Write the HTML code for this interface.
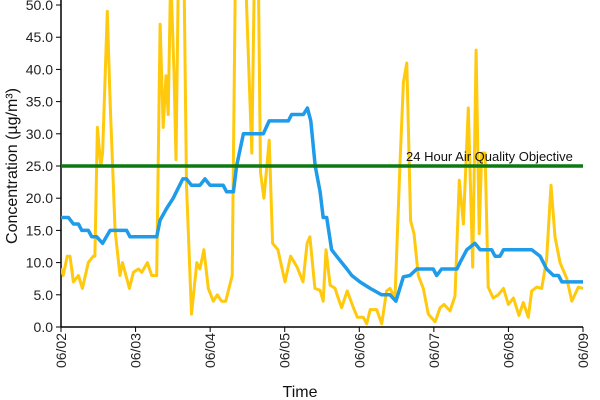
<!DOCTYPE html>
<html><head><meta charset="utf-8"><style>
html,body{margin:0;padding:0;background:#fff;}
svg{display:block;font-family:"Liberation Sans",sans-serif;}
</style></head><body>
<svg id="chart" width="600" height="400" viewBox="0 0 600 400">
<defs><clipPath id="plotclip"><rect x="61" y="0" width="523" height="328"/></clipPath></defs>
<g id="grid"></g>
<g id="series" clip-path="url(#plotclip)"></g>
<text x="406" y="161" font-size="13" fill="#111">24 Hour Air Quality Objective</text>
<text transform="translate(17,166) rotate(-90)" text-anchor="middle" font-size="16" fill="#111">Concentration (µg/m³)</text>
<text x="300" y="397" text-anchor="middle" font-size="16" fill="#111">Time</text>
</svg>
<script>
const yTicks = [0,5,10,15,20,25,30,35,40,45,50];
const xTickLabels = ["06/02","06/03","06/04","06/05","06/06","06/07","06/08","06/09"];
const objective = 25;
const hourlyHours = [0,0.7,2,2.9,4,5.6,6.9,8.8,10.4,10.9,11.7,12.8,13.4,14.9,15.8,17.4,19,19.8,22,23.3,24.9,26,27.8,29.2,30.8,31.9,32.9,33.8,34.5,35.3,36.4,37,37.8,39.6,40.4,42,43.7,44.7,46,47.4,49,50.3,51.7,53,55.1,56.2,59,61.4,62.4,63.4,64.2,65.3,67,68.1,69.8,72.1,73.9,76,77.9,79.2,80.1,81.7,83.4,84.4,85.3,86.6,88.2,89.2,90.3,92.1,94.1,95.4,97.3,98.4,99.5,101.6,103.2,104.8,105.9,107.5,109.1,110.2,111.3,112.5,113.6,115,116.6,118.2,120.4,122,123.3,125.2,126.8,128.2,129.5,131.1,132.5,133.6,134.6,135.4,136.5,137.5,139.1,140.7,142.4,144,145.6,147.4,148.8,150.4,151.5,153.1,154.7,156.3,157.7,159,160.6,162.8,164.4,166.5,168];
const hourlyValues = [9.1,8,11,11,7,8,6,10,11,11,31,25,27,49,35,15,8,10,6,8.5,9,8.5,10,8,8,47,31,39,33,55,39,26,55,55,22,2,10,9,12,6,4,5,4,4,8,58,60,27,60,60,24,20,29,13,12,7,11,9.3,7,13,14,6,5.7,4,12,6.5,6,4.5,3,5.6,3,1.5,1.5,0.5,2.7,2.7,0.5,5.6,6,4.5,25.4,38,41,16.5,14.5,8,6,2,0.8,3,3.5,2.5,4.8,22.8,16,34,9.3,43,14.5,27,27,6.2,4.5,5,6,3.5,4.5,1.8,3.8,1.5,5.6,6.2,6,10.5,22,14,10,7.5,4,6.2,6];
const avgHours = [0,2.4,4,5.6,6.7,8.8,9.9,11.5,13.4,15.8,21.1,22.2,30.8,31.9,34,36.1,39.2,40.4,42,44.7,46.3,48,52.2,53.3,55.5,56.5,58.7,65.1,67,73.2,74.2,78,79.3,80.4,81.8,83.4,84.4,85.5,87.1,88.7,92,93.6,96.2,99.5,103.2,105.9,107.8,110.2,112.3,114.5,119.8,120.9,122.5,127.4,128.4,130.6,133.2,134.9,138.6,139.7,141.3,142.4,151.5,154.2,156.3,158.5,160.1,161.2,168];
const avgValues = [17,17,16,16,15,15,14,14,13,15,15,14,14,16.6,18.4,20,23,23,22,22,23,22,22,21,21,25,30,30,32,32,33,33,34,32,25,21,17,17,12,11,9,8,7,6,5,5,4,7.8,8,9,9,8,9,9,10,12,13,12,12,11,11,12,12,11,9,8,8,7,7];

const X0=61, X1=583, Y0=327, Y1=5;
const xScale = h => X0 + (X1-X0)*h/168;
const yScale = v => Y0 - (Y0-Y1)*v/50;
const NS="http://www.w3.org/2000/svg";
const grid=document.getElementById('grid');
const series=document.getElementById('series');
function mk(tag,attrs,parent){const e=document.createElementNS(NS,tag);for(const k in attrs)e.setAttribute(k,attrs[k]);parent.appendChild(e);return e;}

let ax=mk('line',{x1:X0,y1:0,x2:X0,y2:Y0,stroke:'#000','stroke-width':1.5},grid);


ax=mk('line',{x1:X0,y1:Y0,x2:X1,y2:Y0,stroke:'#000','stroke-width':1.5},grid);


yTicks.forEach(v=>{
  const y=yScale(v);
  const t=mk('line',{x1:X0-5,y1:y,x2:X0,y2:y,stroke:'#000','stroke-width':1},grid);
  
  
  const l=mk('text',{x:X0-8,y:y+5,'text-anchor':'end','font-size':14,fill:'#222'},grid);
  l.textContent=v.toFixed(1);
  
  
});
xTickLabels.forEach((s,i)=>{
  const x=xScale(i*24);
  const t=mk('line',{x1:x,y1:Y0,x2:x,y2:Y0+5,stroke:'#000','stroke-width':1},grid);
  
  
  const l=mk('text',{transform:`translate(${x+5},${Y0+6}) rotate(-90)`,'text-anchor':'end','font-size':14,fill:'#222'},grid);
  l.textContent=s;
  
  
});
const pts=(hs,vs)=>hs.map((h,i)=>xScale(h).toFixed(1)+','+yScale(vs[i]).toFixed(1)).join(' ');
let p=mk('polyline',{points:pts(hourlyHours,hourlyValues),fill:'none',stroke:'#FFC90E','stroke-width':3,'stroke-linejoin':'round'},series);


p=mk('polyline',{points:pts(avgHours,avgValues),fill:'none',stroke:'#1E9BE9','stroke-width':3.5,'stroke-linejoin':'round'},series);


p=mk('line',{x1:X0,y1:yScale(objective),x2:X1,y2:yScale(objective),stroke:'#0B7A10','stroke-width':3.5},series);


</script>
</body></html>
